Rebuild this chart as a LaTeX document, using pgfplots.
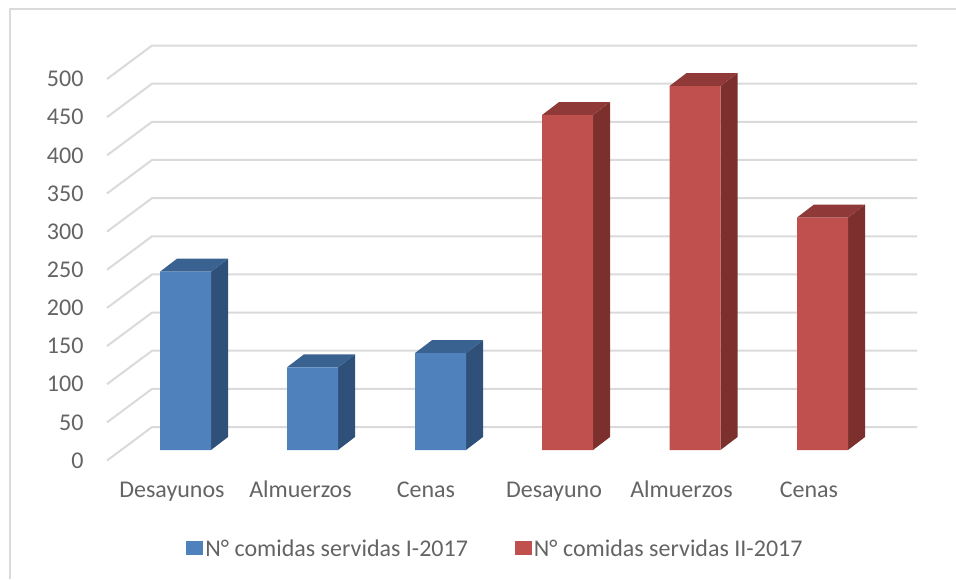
\documentclass[border=0pt]{standalone}
\usepackage{pgfplots}
\pgfplotsset{compat=1.18}
\usepackage{fontspec}
\setmainfont{Carlito}
\definecolor{txt}{HTML}{646464}
\definecolor{gridc}{HTML}{DADADA}
\definecolor{bF}{HTML}{4F81BD}
\definecolor{bS}{HTML}{2F5179}
\definecolor{bT}{HTML}{3A6291}
\definecolor{rF}{HTML}{C0504D}
\definecolor{rS}{HTML}{7C302E}
\definecolor{rT}{HTML}{8F3A38}
% side and top of a bar: #1 left edge, #2 value, #3 side colour, #4 top colour
\newcommand{\barsides}[4]{%
  \addplot[fill=#3,draw=none,forget plot] coordinates {(#1+51,0)(#1+68,17)(#1+68,#2+17)(#1+51,#2)} --cycle;
  \addplot[fill=#4,draw=none,forget plot] coordinates {(#1,#2)(#1+17,#2+17)(#1+68,#2+17)(#1+51,#2)} --cycle;
}
\begin{document}
\begin{tikzpicture}
\begin{axis}[
  scale only axis, width=956pt, height=579pt,
  xmin=0, xmax=956, ymin=-169.07, ymax=589.78,
  axis line style={draw=none}, tick style={draw=none},
  ytick={0,50,100,150,200,250,300,350,400,450,500},
  xtick={185.5,314,439.5,567.5,695,822.5},
  xticklabels={Desayunos,Almuerzos,Cenas,Desayuno,Almuerzos,Cenas},
  yticklabel style={font=\fontsize{24}{24}\selectfont, text=txt, anchor=east, xshift=87pt, yshift=-10.5pt},
  xticklabel style={font=\fontsize{24}{24}\selectfont, text=txt, anchor=base, xshift=-13.5pt, yshift=82pt},
  /pgf/number format/assume math mode=true,
  legend style={draw=none, fill=none, at={(axis cs:495.5,-129)}, anchor=center,
    font=\fontsize{24}{24}\selectfont, text=txt, legend columns=2,
    /tikz/every even column/.style={column sep=45pt}},
  legend cell align=left,
]
% frame of the chart area
\addplot[gridc,line width=2pt,forget plot] coordinates {(10,-169.07)(10,578)(956,578)};
% walls: gridlines
\addplot[gridc,line width=2pt,forget plot] coordinates {(107,-13.8)(152,30.1)(917,30.1)};
\addplot[gridc,line width=2pt,forget plot] coordinates {(107,36.2)(152,80.1)(917,80.1)};
\addplot[gridc,line width=2pt,forget plot] coordinates {(107,86.2)(152,130.1)(917,130.1)};
\addplot[gridc,line width=2pt,forget plot] coordinates {(107,136.2)(152,180.1)(917,180.1)};
\addplot[gridc,line width=2pt,forget plot] coordinates {(107,186.2)(152,230.1)(917,230.1)};
\addplot[gridc,line width=2pt,forget plot] coordinates {(107,236.2)(152,280.1)(917,280.1)};
\addplot[gridc,line width=2pt,forget plot] coordinates {(107,286.2)(152,330.1)(917,330.1)};
\addplot[gridc,line width=2pt,forget plot] coordinates {(107,336.2)(152,380.1)(917,380.1)};
\addplot[gridc,line width=2pt,forget plot] coordinates {(107,386.2)(152,430.1)(917,430.1)};
\addplot[gridc,line width=2pt,forget plot] coordinates {(107,436.2)(152,480.1)(917,480.1)};
\addplot[gridc,line width=2pt,forget plot] coordinates {(107,486.2)(152,530.1)(917,530.1)};
% sides and tops
\barsides{160}{233.7}{bS}{bT}
\barsides{287}{108.4}{bS}{bT}
\barsides{415}{127}{bS}{bT}
\barsides{542}{439}{rS}{rT}
\barsides{669.5}{477}{rS}{rT}
\barsides{797}{304.7}{rS}{rT}
% front faces
\addplot[ybar, bar width=51pt, bar shift=0pt, fill=bF, draw=none,
  legend image code/.code={\path (0pt,-7pt) rectangle (17pt,7pt);\fill[bF] (0pt,-7pt) rectangle (13.5pt,7pt);}]
  coordinates {(185.5,233.7)(312.5,108.4)(440.5,127)};
\addlegendentry{N° comidas servidas I-2017}
\addplot[ybar, bar width=51pt, bar shift=0pt, fill=rF, draw=none,
  legend image code/.code={\path (0pt,-7pt) rectangle (17pt,7pt);\fill[rF] (0pt,-7pt) rectangle (13.5pt,7pt);}]
  coordinates {(567.5,439)(695,477)(822.5,304.7)};
\addlegendentry{N° comidas servidas II-2017}
\end{axis}
\end{tikzpicture}
\end{document}
